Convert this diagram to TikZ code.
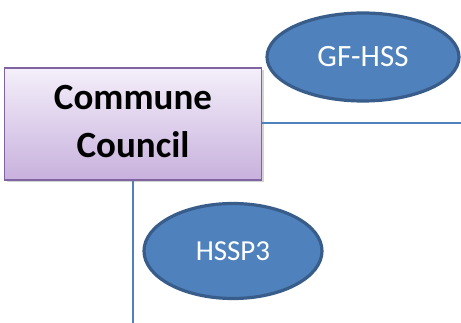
\documentclass[tikz,border=0pt]{standalone}
\usepackage{fontspec}
\setmainfont{Carlito}
\usetikzlibrary{shapes.geometric,shadows}
\definecolor{linkblue}{HTML}{4F81BD}
\definecolor{ovalfill}{HTML}{4F81BD}
\definecolor{ovaledge}{HTML}{385D8A}
\definecolor{boxedge}{HTML}{8064A2}
\definecolor{boxtop}{HTML}{F4EFFA}
\definecolor{boxbottom}{HTML}{C8B1DD}
\tikzset{
  councilbox/.style={draw=boxedge, line width=1.2pt, rectangle,
    top color=boxtop, bottom color=boxbottom,
    minimum width=257pt, minimum height=112pt, inner sep=0pt,
    align=center, font=\fontsize{37}{48}\selectfont\bfseries,
    drop shadow={shadow xshift=2pt, shadow yshift=-2.5pt, opacity=0.35}},
  oval/.style={ellipse, draw=ovaledge, line width=3.2pt, fill=ovalfill,
    text=white, inner sep=0pt},
  link/.style={draw=linkblue, line width=1.4pt}
}
\begin{document}
\begin{tikzpicture}[x=1pt,y=-1pt]
  \useasboundingbox (0,0) rectangle (461,323);
  \node[councilbox] (cc) at (133,124) {\raisebox{-4pt}{\begin{tabular}{@{}c@{}}Commune\\Council\end{tabular}}};
  \coordinate (east end) at (461,123);
  \coordinate (south end) at (133,323);
  \draw[link] (cc.east |- east end) -- (east end);
  \draw[link] (cc.south) -- (south end);
  \node[oval, minimum width=192pt, minimum height=88pt,
        font=\fontsize{31}{36}\selectfont] (gf) at (363,57) {GF-HSS};
  \node[oval, minimum width=178pt, minimum height=95pt,
        font=\fontsize{29}{34}\selectfont] (hssp) at (233,251) {HSSP3};
\end{tikzpicture}
\end{document}
